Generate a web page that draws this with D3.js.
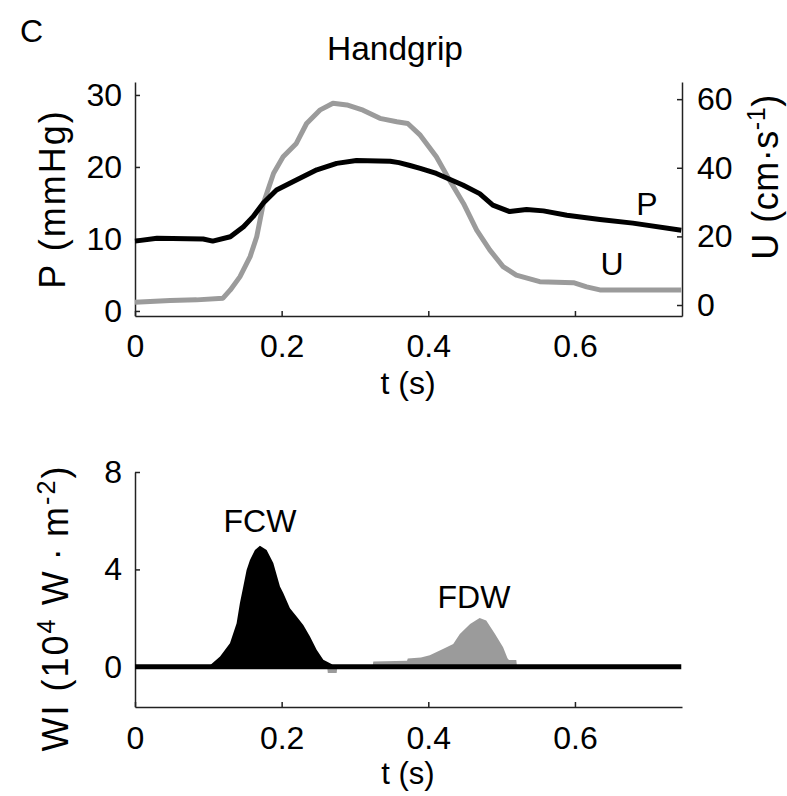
<!DOCTYPE html>
<html><head><meta charset="utf-8">
<script src="https://cdn.jsdelivr.net/npm/d3@7"></script>
<style>
html,body{margin:0;padding:0;background:#fff;}
text{font-family:"Liberation Sans",Arial,sans-serif;fill:#000;}
</style></head>
<body>
<svg id="chart" width="787" height="796"></svg>
<script>
// ---- data ----
const tP = [0, 0.03, 0.093, 0.106, 0.13, 0.148, 0.161, 0.175, 0.193, 0.22, 0.248, 0.275, 0.302, 0.348, 0.36, 0.375, 0.389, 0.411, 0.429, 0.447, 0.47, 0.488, 0.511, 0.534, 0.557, 0.589, 0.634, 0.679, 0.745];
const P  = [9.7, 10.1, 10.0, 9.7, 10.3, 11.7, 13.1, 15.0, 16.8, 18.2, 19.6, 20.5, 20.9, 20.8, 20.6, 20.2, 19.8, 19.1, 18.3, 17.5, 16.3, 14.7, 13.8, 14.1, 13.9, 13.3, 12.7, 12.2, 11.2];
const tU = [0, 0.048, 0.084, 0.12, 0.13, 0.143, 0.157, 0.166, 0.175, 0.189, 0.202, 0.22, 0.234, 0.252, 0.27, 0.289, 0.311, 0.334, 0.357, 0.372, 0.389, 0.411, 0.429, 0.448, 0.466, 0.484, 0.502, 0.52, 0.552, 0.598, 0.616, 0.634, 0.745];
const U  = [0.8, 1.3, 1.5, 2.0, 4.4, 8.2, 14.1, 19.9, 29.6, 38.4, 43.2, 47.1, 52.9, 56.8, 58.8, 58.3, 56.8, 54.4, 53.4, 52.9, 49.5, 43.2, 36.4, 29.6, 21.8, 16.0, 11.2, 8.7, 6.8, 6.5, 5.3, 4.4, 4.4];
const tFCW = [0.1, 0.116, 0.1295, 0.1386, 0.1431, 0.1477, 0.1522, 0.1568, 0.1636, 0.1704, 0.1795, 0.1886, 0.1977, 0.2022, 0.2113, 0.2204, 0.2295, 0.2386, 0.2477, 0.2568, 0.268, 0.272];
const FCW  = [0, 0.42, 0.97, 1.79, 2.62, 3.30, 3.98, 4.39, 4.80, 4.97, 4.80, 4.26, 3.30, 3.03, 2.41, 2.07, 1.72, 1.24, 0.70, 0.29, 0.12, 0];
const tFDW = [0.262, 0.263, 0.275, 0.276, 0.324, 0.325, 0.371, 0.372, 0.39, 0.402, 0.42, 0.434, 0.443, 0.457, 0.47, 0.479, 0.491, 0.502, 0.508, 0.51, 0.52, 0.521];
const FDW  = [0, -0.25, -0.25, 0, 0, 0.22, 0.25, 0.34, 0.38, 0.48, 0.73, 0.94, 1.35, 1.76, 2.0, 1.9, 1.35, 0.8, 0.35, 0.28, 0.28, 0];
const xTicks = [0, 0.2, 0.4, 0.6];
const pTicks = [0, 10, 20, 30];
const uTicks = [0, 20, 40, 60];
const wiTicks = [0, 4, 8];

// ---- layout ----
const svg = d3.select("#chart");
const FS = 32;
const LFS = 36;
const gray = "#9b9b9b";
const x = d3.scaleLinear().domain([0, 0.746]).range([135, 682]);
const yP = d3.scaleLinear().domain([-0.7, 31.8]).range([316, 82]);
const yU = d3.scaleLinear().domain([-3.2, 65]).range([316, 82]);
const yW = d3.scaleLinear().domain([-1.65, 8]).range([707, 472]);

function styleAxis(g){
  g.select(".domain").attr("stroke","#222").attr("stroke-width",1.5);
  g.selectAll(".tick line").attr("stroke","#222").attr("stroke-width",1.5);
  g.selectAll("text").attr("font-size",FS).attr("font-family","Liberation Sans, Arial, sans-serif").attr("fill","#000");
}

// ---- top panel ----
const gTop = svg.append("g");
gTop.append("g").attr("transform","translate(0,316)")
  .call(d3.axisBottom(x).tickValues(xTicks).tickFormat(d3.format("")).tickSizeInner(-5).tickSizeOuter(0).tickPadding(0))
  .call(styleAxis)
  .call(g=>g.selectAll("text").attr("dy",null).attr("y",41));
gTop.append("g").attr("transform","translate(135,0)")
  .call(d3.axisLeft(yP).tickValues(pTicks).tickSizeInner(-5).tickSizeOuter(0).tickPadding(13))
  .call(styleAxis);
gTop.append("g").attr("transform","translate(682,0)")
  .call(d3.axisRight(yU).tickValues(uTicks).tickSizeInner(-5).tickSizeOuter(0).tickPadding(15))
  .call(styleAxis);

const lineU = d3.line().x((d,i)=>x(tU[i])).y(d=>yU(d));
const lineP = d3.line().x((d,i)=>x(tP[i])).y(d=>yP(d));
gTop.append("path").datum(U).attr("d",lineU).attr("fill","none").attr("stroke",gray).attr("stroke-width",5).attr("stroke-linejoin","round");
gTop.append("path").datum(P).attr("d",lineP).attr("fill","none").attr("stroke","#000").attr("stroke-width",5).attr("stroke-linejoin","round");

// ---- bottom panel ----
const gBot = svg.append("g");
gBot.append("g").attr("transform","translate(0,707)")
  .call(d3.axisBottom(x).tickValues(xTicks).tickFormat(d3.format("")).tickSizeInner(-5).tickSizeOuter(0).tickPadding(0))
  .call(styleAxis)
  .call(g=>g.selectAll("text").attr("dy",null).attr("y",42));
gBot.append("g").attr("transform","translate(135,0)")
  .call(d3.axisLeft(yW).tickValues(wiTicks).tickSizeInner(-5).tickSizeOuter(0).tickPadding(13))
  .call(styleAxis);

const areaF = d3.area().x((d,i)=>x(tFDW[i])).y0(yW(0)).y1(d=>yW(d));
const areaC = d3.area().x((d,i)=>x(tFCW[i])).y0(yW(0)).y1(d=>yW(d));
gBot.append("path").datum(FDW).attr("d",areaF).attr("fill",gray);
gBot.append("path").datum(FCW).attr("d",areaC).attr("fill","#000");
gBot.append("line").attr("x1",x(0)).attr("x2",x(0.745)).attr("y1",yW(0)).attr("y2",yW(0))
  .attr("stroke","#000").attr("stroke-width",5);

// ---- texts ----
function txt(s,xx,yy,anchor,fs){ return svg.append("text").attr("x",xx).attr("y",yy).attr("font-size",fs||FS).attr("text-anchor",anchor||"start").text(s); }
txt("C",20,42);
txt("Handgrip",395,60,"middle",33.5);
txt("t (s)",408,394,"middle");
txt("t (s)",408,784,"middle",31);
txt("P",647,215,"middle");
txt("U",612,275,"middle");
txt("FCW",260,532,"middle");
txt("FDW",474,608,"middle");

// rotated labels
svg.append("text").attr("transform","translate(65,199) rotate(-90)").attr("text-anchor","middle")
  .attr("font-size",LFS).attr("letter-spacing",2).text("P (mmHg)");
const lu = svg.append("text").attr("transform","translate(778,177) rotate(-90)").attr("text-anchor","middle")
  .attr("font-size",LFS).attr("letter-spacing",0.5);
lu.append("tspan").text("U (cm·s");
lu.append("tspan").attr("font-size",LFS*0.7).attr("dy",-13).text("-1");
lu.append("tspan").attr("dy",13).text(")");
const lw = svg.append("text").attr("transform","translate(68,608) rotate(-90)").attr("text-anchor","middle")
  .attr("font-size",LFS).attr("letter-spacing",2);
lw.append("tspan").text("WI (10");
lw.append("tspan").attr("font-size",LFS*0.7).attr("dy",-13).text("4");
lw.append("tspan").attr("dy",13).text(" W\u2009·\u2009m");
lw.append("tspan").attr("font-size",LFS*0.7).attr("dy",-13).text("-2");
lw.append("tspan").attr("dy",13).text(")");
</script>
</body></html>
